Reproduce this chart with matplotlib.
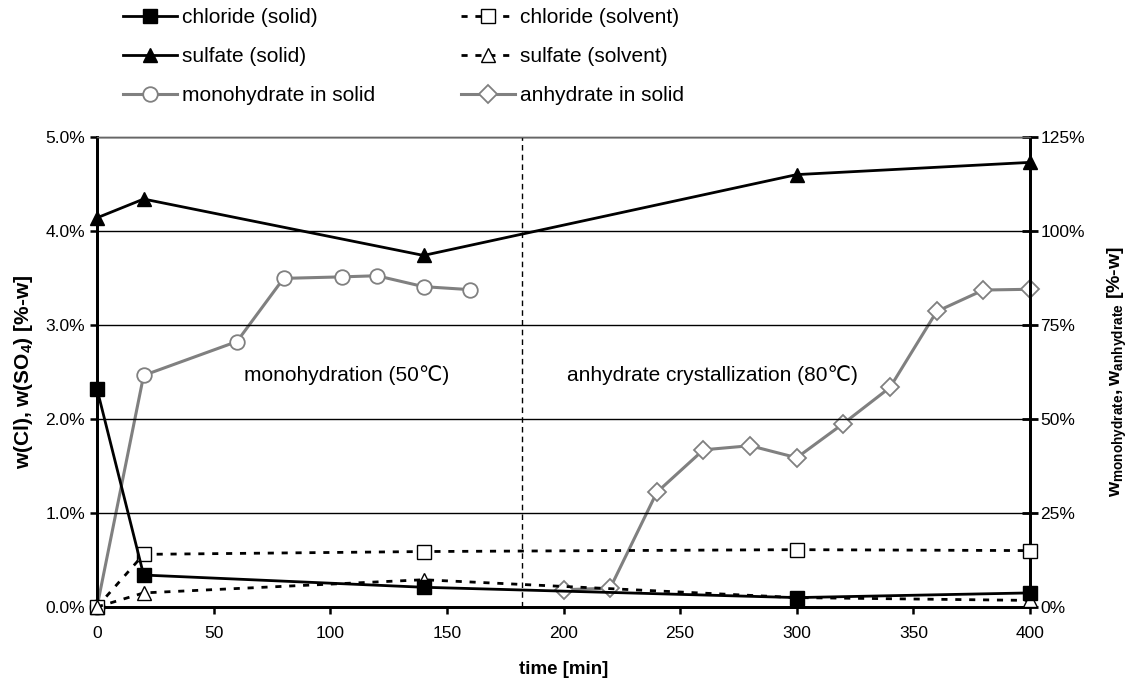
import matplotlib
matplotlib.use("Agg")
import matplotlib.pyplot as plt
from matplotlib.ticker import FuncFormatter, MultipleLocator

plt.rcParams['font.family'] = ['Liberation Sans', 'DejaVu Sans']
plt.rcParams['mathtext.fontset'] = 'custom'
plt.rcParams['mathtext.rm'] = 'Liberation Sans'
plt.rcParams['mathtext.bf'] = 'Liberation Sans:bold'

# salt concentrations [%-w]
t_salt = [0, 20, 140, 300, 400]
cl_solid = [2.32, 0.34, 0.21, 0.10, 0.15]
so4_solid = [4.14, 4.34, 3.74, 4.60, 4.73]
cl_solvent = [0.0, 0.56, 0.59, 0.61, 0.60]
so4_solvent = [0.0, 0.15, 0.29, 0.10, 0.07]

# phase fractions in solid [%-w]
t_mono = [0, 20, 60, 80, 105, 120, 140, 160]
mono = [0, 61.6, 70.6, 87.4, 87.8, 88.1, 85.2, 84.4]
t_anhy = [200, 220, 240, 260, 280, 300, 320, 340, 360, 380, 400]
anhy = [4.6, 5.0, 30.5, 41.8, 42.9, 39.7, 48.8, 58.4, 78.6, 84.3, 84.5]

t_switch = 182

gray = '#808080'
fig = plt.figure(figsize=(11.28, 6.81), dpi=100)
ax = fig.add_axes([97 / 1128, 74 / 681, 933 / 1128, 470 / 681])
ax2 = ax.twinx()

ax.set_zorder(ax2.get_zorder() + 1)
ax.patch.set_visible(False)

# phase fractions on the right axis
h_mono, = ax2.plot(t_mono, mono, color=gray, lw=2.2, marker='o', ms=10.5,
                   mfc='white', mec=gray, mew=1.3, clip_on=False,
                   label='monohydrate in solid')
h_anhy, = ax2.plot(t_anhy, anhy, color=gray, lw=2.2, marker='D', ms=9,
                   mfc='white', mec=gray, mew=1.3, clip_on=False,
                   label='anhydrate in solid')

h_cls, = ax.plot(t_salt, cl_solid, color='black', lw=2, marker='s', ms=10.5,
                 clip_on=False, label='chloride (solid)', zorder=4)
h_sos, = ax.plot(t_salt, so4_solid, color='black', lw=2, marker='^', ms=10.5,
                 clip_on=False, label='sulfate (solid)', zorder=4)
h_clv, = ax.plot(t_salt, cl_solvent, color='black', lw=2, ls=(0, (2.2, 2.8)),
                 marker='s', ms=10.5, mfc='white', mec='black', mew=1,
                 clip_on=False, label='chloride (solvent)', zorder=3)
h_sov, = ax.plot(t_salt, so4_solvent, color='black', lw=2, ls=(0, (2.2, 2.8)),
                 marker='^', ms=10.5, mfc='white', mec='black', mew=1,
                 clip_on=False, label='sulfate (solvent)', zorder=3)

ax.axvline(t_switch, color='black', lw=1, ls=(0, (4, 3)), zorder=2)

ax.set_xlim(0, 400)
ax.set_ylim(0, 5)
ax2.set_ylim(0, 125)
ax.xaxis.set_major_locator(MultipleLocator(50))
ax.yaxis.set_major_locator(MultipleLocator(1))
ax2.yaxis.set_major_locator(MultipleLocator(25))
ax.yaxis.set_major_formatter(FuncFormatter(lambda v, p: '%.1f%%' % v))
ax2.yaxis.set_major_formatter(FuncFormatter(lambda v, p: '%d%%' % v))

ax.grid(axis='y', color='black', lw=1)
ax.set_axisbelow(True)
for a in (ax, ax2):
    for s in ('left', 'right', 'bottom'):
        a.spines[s].set_linewidth(2)
    a.spines['top'].set_linewidth(1)
    a.spines['top'].set_color('#666666')
ax.tick_params(axis='both', labelsize=12.5, width=1.8, length=5)
ax.tick_params(axis='x', pad=9)
ax2.tick_params(axis='y', labelsize=12.5, width=2, length=11,
                direction='inout', pad=2)

ax.set_xlabel('time [min]', fontsize=13.5, fontweight='bold', labelpad=14)
ax.set_ylabel(r'w(Cl), w(SO$_\mathbf{4}$) [%-w]', fontsize=15,
              fontweight='bold')
ax.yaxis.set_label_coords(-0.066, 0.5)
ax2.set_ylabel(r'$\mathbf{w_{monohydrate}, w_{anhydrate}}$ [%-w]',
               fontsize=14, fontweight='bold')
ax2.yaxis.set_label_coords(1.081, 0.5)

ax.text(107, 2.47, 'monohydration (50℃)', fontsize=15, ha='center',
        va='center')
ax.text(264, 2.47, 'anhydrate crystallization (80℃)', fontsize=15,
        ha='center', va='center')

handles = [h_cls, h_sos, h_mono, h_clv, h_sov, h_anhy]
fig.legend(handles, [h.get_label() for h in handles], ncol=2,
           loc='upper left', bbox_to_anchor=(123 / 1128, 1 - 8 / 681),
           frameon=False, borderpad=0, borderaxespad=0,
           fontsize=15, handlelength=2.6, handletextpad=0.25,
           columnspacing=4.1, labelspacing=0.97)

fig.savefig('out.png', dpi=100)
